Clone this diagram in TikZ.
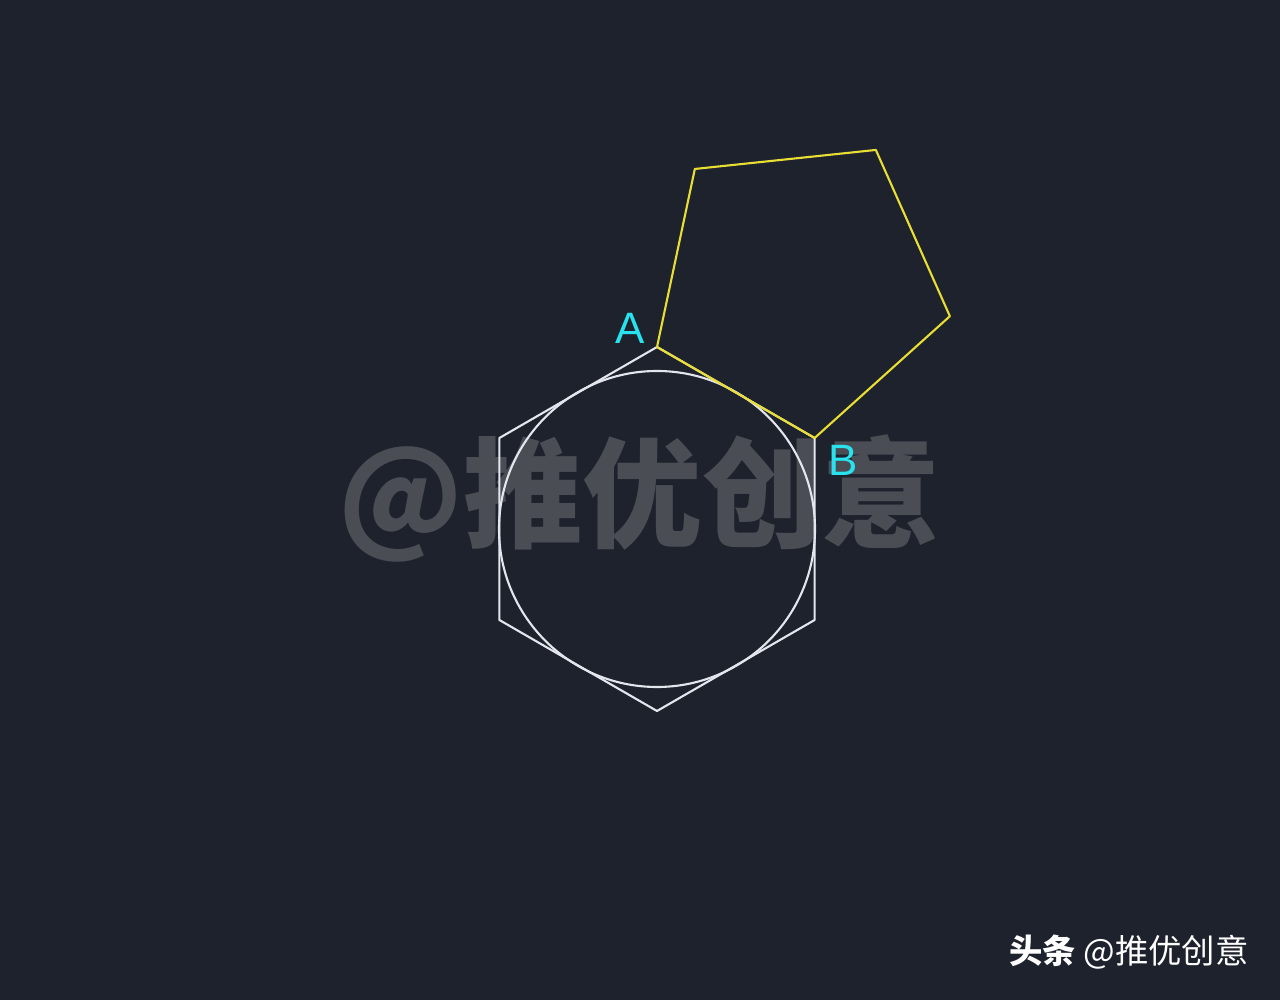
\documentclass[tikz,border=0pt]{standalone}
\usepackage{fontspec}
\setmainfont{Liberation Sans}
\newfontfamily\cjk{Noto Sans CJK SC}
\usetikzlibrary{calc}

\definecolor{bgdark}{RGB}{30,34,44}
\definecolor{lineWhite}{RGB}{228,230,238}
\definecolor{penYellow}{RGB}{232,222,52}
\definecolor{labelCyan}{RGB}{40,226,238}
\definecolor{markGray}{RGB}{130,130,136}

\begin{document}
\begin{tikzpicture}[
    x=0.02cm, y=0.02cm,
    hexline/.style={draw=lineWhite, line width=1.2pt, line join=round}, % hexagon and circle
    pentline/.style={draw=penYellow, line width=1.2pt, line join=round}, % pentagon on edge AB
    ptlabel/.style={text=labelCyan, font=\fontsize{25}{25}\selectfont, inner sep=0pt}, % vertex letters
    watermark/.style={text=markGray, opacity=0.45, font=\cjk\bfseries\fontsize{68}{68}\selectfont, inner sep=0pt},
    credit/.style={text=white, font=\cjk\fontsize{19}{19}\selectfont, inner sep=0pt, anchor=east}
]

    % === Background and frame ===
    \fill[bgdark] (0,0) rectangle (1280,1000);
    \useasboundingbox (0,0) rectangle (1280,1000);

    % === Watermark behind the figure ===
    \node[watermark] (mark) at (640,502) {@推优创意};

    % === Hexagon centre and vertices ===
    \coordinate (O) at (657,471);
    \foreach \i in {1,...,6} {
        \path (O) ++({90-60*(\i-1)}:182) coordinate (H\i);
    }
    \coordinate (A) at (H1);
    \coordinate (B) at (H2);

    % === Hexagon with inscribed circle ===
    \draw[hexline] (H1) -- (H2) -- (H3) -- (H4) -- (H5) -- (H6) -- cycle;
    \draw[hexline] (O) circle (158);

    % === Pentagon built on edge AB ===
    \draw[pentline] (A) -- (B) -- ++(42:182) coordinate (P3)
        -- ++(114:182) coordinate (P4) -- ++(186:182) coordinate (P5) -- cycle;

    % Labels for A and B
    \node[ptlabel] (labelA) at (630,672) {A};
    \node[ptlabel] (labelB) at (843,540) {B};

    % === Source line ===
    \node[credit] (source) at (1249,48) {{\bfseries 头条} @推优创意};

\end{tikzpicture}
\end{document}
